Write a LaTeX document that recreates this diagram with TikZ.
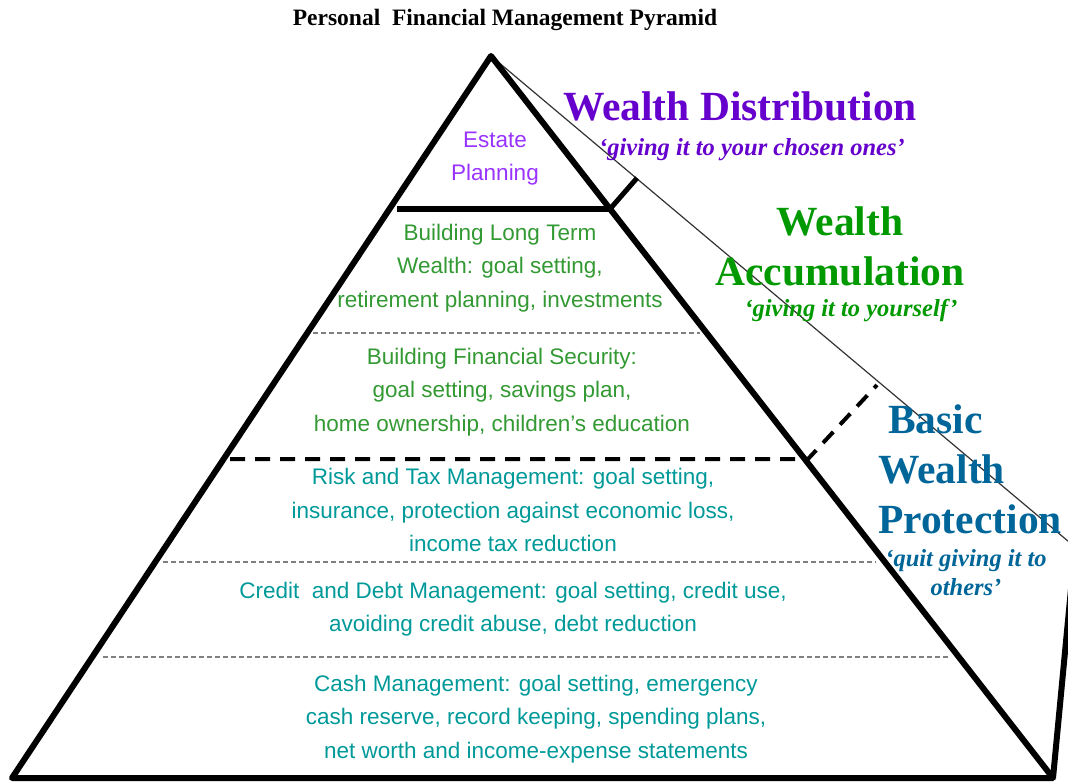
\documentclass[tikz,border=0pt]{standalone}
\usepackage{fontspec}
\setmainfont{Liberation Serif}
\newfontfamily\arialfont{Liberation Sans}
\usepackage{tikz}
\usetikzlibrary{positioning}

\definecolor{distpurple}{HTML}{6600CC}
\definecolor{estatepurple}{HTML}{9933FF}
\definecolor{accgreen}{HTML}{009900}
\definecolor{layergreen}{HTML}{339933}
\definecolor{layerteal}{HTML}{009999}
\definecolor{protblue}{HTML}{006699}

\begin{document}
\begin{tikzpicture}[
    x=1pt, y=-1pt,
    edge/.style={line width=6pt, line join=round},
    thinsep/.style={draw=gray, line width=1.2pt, dash pattern=on 5pt off 3pt},
    thicksep/.style={line width=4pt, dash pattern=on 15pt off 10pt},
    layertext/.style={align=center, inner sep=0pt, font=\arialfont\fontsize{22.5}{33.5}\selectfont},
    headtext/.style={align=center, inner sep=0pt, font=\bfseries\fontsize{41.5}{50}\selectfont},
    mottotext/.style={align=center, inner sep=0pt, font=\bfseries\itshape\fontsize{24.5}{29}\selectfont}
]
\useasboundingbox (0,0) rectangle (1068,783);
\clip (0,0) rectangle (1068,783);

\coordinate (apex) at (491,56);
\coordinate (bl) at (12,778);
\coordinate (br) at (1053,778);
\coordinate (back) at (1075,547);

\draw[line width=1.2pt, draw=black!80] (apex) -- (back);
\draw[edge] (br) -- (back);
\draw[edge] (bl) -- (apex) -- (br) -- cycle;

\coordinate (estL) at (397,209);
\coordinate (estR) at (610,209);
\coordinate (estTick) at (637,178);
\draw[line width=6pt] (estL) -- (estR);
\draw[line width=5pt] (estR) -- (estTick);

\coordinate (baseL) at (230,459);
\coordinate (baseR) at (808,459);
\coordinate (baseTick) at (877,385);
\draw[thicksep] (baseL) -- (baseR) -- (baseTick);

\coordinate (sepA-l) at (313,333);
\coordinate (sepA-r) at (700,333);
\coordinate (sepB-l) at (163,562);
\coordinate (sepB-r) at (876,562);
\coordinate (sepC-l) at (103,657);
\coordinate (sepC-r) at (950,657);
\draw[thinsep] (sepA-l) -- (sepA-r);
\draw[thinsep] (sepB-l) -- (sepB-r);
\draw[thinsep] (sepC-l) -- (sepC-r);

\node[font=\bfseries\fontsize{23.5}{28}\selectfont, inner sep=0pt] (title) at (505,20) {Personal\ \ Financial Management Pyramid};

\node[layertext, text=estatepurple, font=\arialfont\fontsize{22.5}{33}\selectfont] (estate) at (495,159) {Estate\\Planning};
\node[layertext, text=layergreen] (longterm) at (500,268) {Building Long Term\\Wealth: goal setting,\\retirement planning, investments};
\node[layertext, text=layergreen] (security) at (502,392) {Building Financial Security:\\goal setting, savings plan,\\home ownership, children’s education};
\node[layertext, text=layerteal] (risktax) at (513,510) {Risk and Tax Management: goal setting,\\insurance, protection against economic loss,\\income tax reduction};
\node[layertext, text=layerteal] (credit) at (513,609) {Credit\ \ and Debt Management: goal setting, credit use,\\avoiding credit abuse, debt reduction};
\node[layertext, text=layerteal] (cash) at (536,719) {Cash Management: goal setting, emergency\\cash reserve, record keeping, spending plans,\\net worth and income-expense statements};

\node[headtext, text=distpurple] (distHead) at (740,106) {Wealth Distribution};
\node[mottotext, text=distpurple, below=17pt of distHead.south, anchor=north, xshift=12pt] (distMotto) {‘giving it to your chosen ones’};

\node[headtext, text=accgreen] (accHead) at (840,246) {Wealth\\Accumulation};
\node[mottotext, text=accgreen, below=13pt of accHead.south, anchor=north, xshift=11pt] (accMotto) {‘giving it to yourself’};

\node[headtext, text=protblue, align=left, anchor=west] (protHead) at (878,469) {\hspace*{10pt}Basic\\Wealth\\Protection};
\node[mottotext, text=protblue, below=15pt of protHead.south, anchor=north, xshift=-4pt] (protMotto) {‘quit giving it to\\others’};
\end{tikzpicture}
\end{document}
